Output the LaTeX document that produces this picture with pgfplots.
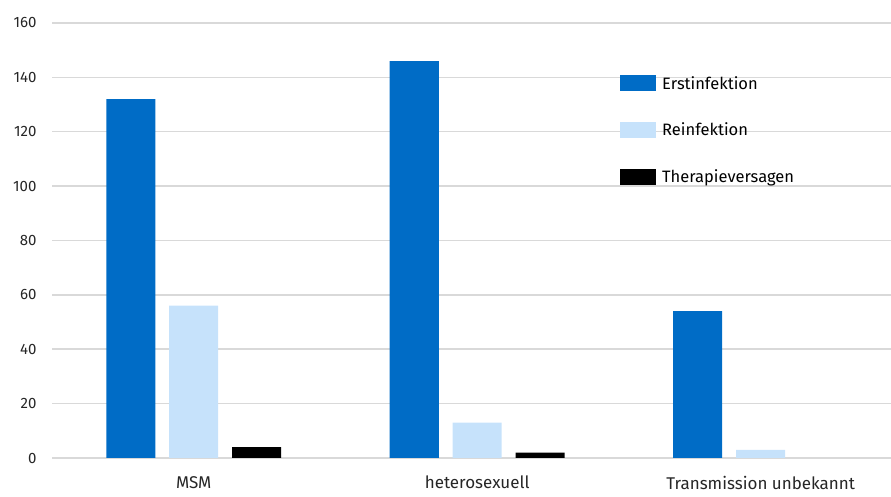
\documentclass[border=0pt]{standalone}
\usepackage{fontspec}
\setmainfont{Fira Sans}
\usepackage{pgfplots}
\pgfplotsset{compat=1.18}
\definecolor{cBlue}{RGB}{0,108,198}
\definecolor{cLight}{RGB}{198,226,251}
\definecolor{cGrid}{RGB}{217,217,217}
\begin{document}
\begin{tikzpicture}
\begin{axis}[
  at={(52bp,39bp)}, anchor=south west,
  scale only axis, width=839bp, height=435bp,
  xmin=-0.5, xmax=2.46, ymin=0, ymax=160,
  ytick={0,20,...,160},
  xtick={0,1,2},
  xticklabels={MSM,heterosexuell,Transmission unbekannt},
  axis line style={draw=none},
  major tick length=0pt,
  ymajorgrids, grid style={cGrid, line width=1.5bp},
  tick label style={text=black!85},
  yticklabel style={font=\fontsize{15bp}{18bp}\selectfont, xshift=-12bp},
  xticklabel style={font=\fontsize{17bp}{20bp}\selectfont, yshift=-17bp, inner sep=1bp},
  /pgf/number format/assume math mode=true,
  bar width=0.173,
  legend style={draw=none, fill=none, at={(0.677,0.885)}, anchor=north west,
    font=\fontsize{16.5bp}{19bp}\selectfont, row sep=26.5bp, inner sep=0pt,
    nodes={inner sep=3bp}},
  legend cell align=left,
  legend image code/.code={\fill[#1] (0bp,-8bp) rectangle (36bp,8bp);},
]
\addplot[ybar, bar shift=-0.222, fill=cBlue, draw=none] coordinates {(0,132) (1,146) (2,54)};
\addlegendentry{\hspace{3bp}Erstinfektion}
\addplot[ybar, bar shift=0, fill=cLight, draw=none] coordinates {(0,56) (1,13) (2,3)};
\addlegendentry{\hspace{3bp}Reinfektion}
\addplot[ybar, bar shift=0.222, fill=black, draw=none] coordinates {(0,4) (1,2) (2,0)};
\addlegendentry{\hspace{3bp}Therapieversagen}
\end{axis}
\pgfresetboundingbox
\path[use as bounding box] (0,0) rectangle (891bp,497bp);
\end{tikzpicture}
\end{document}
